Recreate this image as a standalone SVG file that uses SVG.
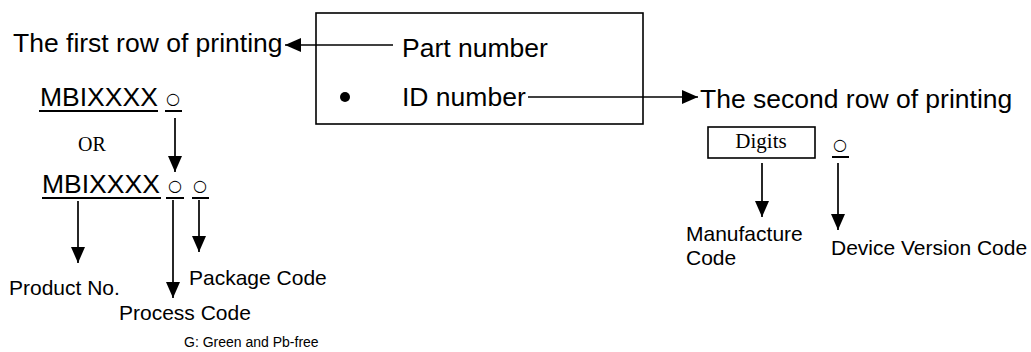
<svg xmlns="http://www.w3.org/2000/svg" width="1031" height="352" viewBox="0 0 1031 352">
<style>
.s{font-family:"Liberation Sans",Arial,sans-serif;fill:#000}
.big{font-size:26.5px}
.mid{font-size:21px}
.sm{font-size:14px}
.serif{font-family:"Liberation Serif","Times New Roman",serif;fill:#000}
.circ{font-family:"DejaVu Sans",sans-serif;font-size:16px;fill:#000;text-anchor:middle}
.ln{stroke:#000;stroke-width:1.7;fill:none}
.ul{stroke:#000;stroke-width:2;fill:none}
.box{stroke:#000;stroke-width:1.6;fill:#fff}
</style>
<defs>
<marker id="ah" markerUnits="userSpaceOnUse" markerWidth="17" markerHeight="15" refX="16" refY="7" orient="auto">
<path d="M0,0 L16,7 L0,14 z" fill="#000"/>
</marker>
</defs>
<rect fill="#fff" width="1031" height="352"/>
<g id="source-box">
<rect class="box" x="316" y="13" width="327" height="111"/>
<text class="s big" x="402" y="57">Part number</text>
<circle cx="345" cy="97" r="5" fill="#000"/>
<text class="s big" x="402" y="106">ID number</text>
</g>
<g id="first-row">
<text class="s big" x="13" y="52">The first row of printing</text>
<text class="s big" x="40" y="106">MBIXXXX</text>
<line class="ul" x1="39" y1="111" x2="158" y2="111"/>
<text class="circ" x="173" y="104">○</text>
<line class="ul" x1="165" y1="111" x2="182" y2="111"/>
<text class="serif" x="78" y="151" font-size="20">OR</text>
<text class="s big" x="42" y="193">MBIXXXX</text>
<line class="ul" x1="42" y1="198" x2="161" y2="198"/>
<text class="circ" x="175" y="191">○</text>
<line class="ul" x1="166" y1="198" x2="184" y2="198"/>
<text class="circ" x="200" y="191">○</text>
<line class="ul" x1="192" y1="198" x2="209" y2="198"/>
</g>
<g id="product-no"><text class="s mid" x="9" y="295">Product No.</text></g>
<g id="package-code"><text class="s mid" x="189" y="285">Package Code</text></g>
<g id="process-code">
<text class="s mid" x="119" y="320">Process Code</text>
<text class="s sm" x="184" y="347">G: Green and Pb-free</text>
</g>
<g id="second-row">
<text class="s big" x="700" y="108">The second row of printing</text>
<rect class="box" x="708" y="127" width="107" height="31"/>
<text class="serif" x="761" y="148" font-size="21" text-anchor="middle">Digits</text>
<text class="circ" x="840" y="150">○</text>
<line class="ul" x1="832" y1="157" x2="849" y2="157"/>
</g>
<g id="manufacture-code">
<text class="s mid" x="686" y="241">Manufacture</text>
<text class="s mid" x="686" y="265">Code</text>
</g>
<g id="device-version-code"><text class="s mid" x="831" y="255">Device Version Code</text></g>
<g id="connectors">
<line class="ln" x1="393" y1="45" x2="285" y2="45" marker-end="url(#ah)"/>
<line class="ln" x1="528" y1="97" x2="698" y2="97" marker-end="url(#ah)"/>
<line class="ln" x1="175" y1="118" x2="175" y2="172" marker-end="url(#ah)"/>
<line class="ln" x1="78" y1="201" x2="78" y2="263" marker-end="url(#ah)"/>
<line class="ln" x1="173" y1="200" x2="173" y2="298" marker-end="url(#ah)"/>
<line class="ln" x1="199" y1="200" x2="199" y2="252" marker-end="url(#ah)"/>
<line class="ln" x1="762" y1="163" x2="762" y2="217" marker-end="url(#ah)"/>
<line class="ln" x1="838" y1="163" x2="838" y2="230" marker-end="url(#ah)"/>
</g>
</svg>
